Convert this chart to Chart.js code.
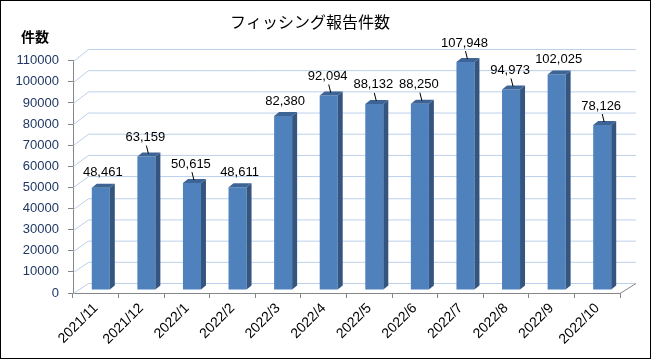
<!DOCTYPE html>
<html>
<head>
<meta charset="utf-8">
<script src="https://cdn.jsdelivr.net/npm/chart.js@4/dist/chart.umd.min.js"></script>
<style>
    body { margin: 0; background: #fff; }
    #wrap { width: 652px; height: 360px; }
</style>
</head>
<body>
<div id="wrap"><canvas id="myChart" width="652" height="360"></canvas></div>
<script>
const months = ["2021/11", "2021/12", "2022/1", "2022/2", "2022/3", "2022/4", "2022/5", "2022/6", "2022/7", "2022/8", "2022/9", "2022/10"]
const counts = [48461, 63159, 50615, 48611, 82380, 92094, 88132, 88250, 107948, 94973, 102025, 78126]
const yTicks = [0, 10000, 20000, 30000, 40000, 50000, 60000, 70000, 80000, 90000, 100000, 110000]
const hasLeader = [false, true, true, false, false, true, true, true, true, true, false, true]

const gridColor = "#BCD0EA"
const axisColor = "#868686"
const front = "#4F81BD"
const sideColor = "#34557F"
const topColor = "#3D6495"

// back wall offset (slight perspective: a bit deeper at the top)
function wallDy(v) {
    return -10 - 2 * (v / 110000)
}

const depth3d = {
    id: "depth3d",
    beforeDatasetsDraw(chart) {
        const {ctx, chartArea: a, scales: {y}} = chart
        ctx.save()
        ctx.lineWidth = 1
        ctx.strokeStyle = gridColor
        yTicks.forEach(v => {
            const py = Math.round(y.getPixelForValue(v)) + 0.5
            const dy = wallDy(v)
            ctx.beginPath()
            ctx.moveTo(a.left + 0.5, py)
            ctx.lineTo(a.left + 15.5, py + dy)
            ctx.lineTo(a.right + 16, py + dy)
            ctx.stroke()
        })
        // right edge of the floor
        const py0 = Math.round(y.getPixelForValue(0)) + 0.5
        ctx.strokeStyle = axisColor
        ctx.beginPath()
        ctx.moveTo(a.right, py0)
        ctx.lineTo(a.right + 16, py0 + wallDy(0))
        ctx.stroke()
        ctx.restore()

        // bars sit a little behind the front plane
        ctx.save()
        ctx.translate(5, -3)
    },
    afterDatasetsDraw(chart) {
        const ctx = chart.ctx
        const meta = chart.getDatasetMeta(0)
        meta.data.forEach((bar, i) => {
            const p = bar.getProps(["x", "y", "base", "width"], true)
            const l = p.x - p.width / 2
            const r = p.x + p.width / 2
            const dx = 5, dy = -4
            ctx.fillStyle = sideColor
            ctx.beginPath()
            ctx.moveTo(r, p.y)
            ctx.lineTo(r + dx, p.y + dy)
            ctx.lineTo(r + dx, p.base + dy)
            ctx.lineTo(r, p.base)
            ctx.closePath()
            ctx.fill()
            ctx.fillStyle = topColor
            ctx.beginPath()
            ctx.moveTo(l, p.y)
            ctx.lineTo(l + dx, p.y + dy)
            ctx.lineTo(r + dx, p.y + dy)
            ctx.lineTo(r, p.y)
            ctx.closePath()
            ctx.fill()

            // value label
            const cx = p.x + 2
            const ly = hasLeader[i] ? p.y - 19 : p.y - 15
            ctx.fillStyle = "#000"
            ctx.font = "13px 'Liberation Sans'"
            ctx.textAlign = "center"
            ctx.textBaseline = "middle"
            ctx.fillText(counts[i].toLocaleString("en-US"), cx - (hasLeader[i] ? 3 : 0), ly)
            if (hasLeader[i]) {
                ctx.strokeStyle = "#000"
                ctx.lineWidth = 1
                ctx.beginPath()
                ctx.moveTo(cx - 2, p.y - 11)
                ctx.lineTo(cx, p.y - 3)
                ctx.stroke()
            }
        })
        ctx.restore()
    },
    afterDraw(chart) {
        const ctx = chart.ctx
        ctx.save()
        ctx.fillStyle = "#000"
        ctx.font = "bold 14px 'Noto Sans CJK JP'"
        ctx.textAlign = "center"
        ctx.textBaseline = "middle"
        ctx.fillText("件数", 35, 37)
        ctx.strokeStyle = "#000"
        ctx.lineWidth = 1
        ctx.strokeRect(0.5, 0.5, 650, 358)
        ctx.restore()
    }
}

const config = {
    type: "bar",
    data: {
        labels: months,
        datasets: [{
            data: counts,
            backgroundColor: front,
            borderWidth: 0,
            barPercentage: 0.395,
            categoryPercentage: 1
        }]
    },
    options: {
        responsive: false,
        animation: false,
        layout: {padding: {left: 0, right: 32, top: 0, bottom: 0}},
        plugins: {
            legend: {display: false},
            tooltip: {enabled: false},
            title: {
                display: true,
                text: "フィッシング報告件数",
                color: "#000",
                font: {family: "'Noto Sans CJK JP'", size: 16, weight: "normal", lineHeight: 1.2},
                padding: {top: 12, bottom: 29.5}
            }
        },
        scales: {
            x: {
                offset: true,
                grid: {display: true, drawOnChartArea: false, offset: true, tickLength: 5, color: axisColor},
                border: {display: true, color: axisColor},
                ticks: {
                    autoSkip: false,
                    maxRotation: 45,
                    minRotation: 45,
                    padding: 2,
                    color: "#000",
                    font: {family: "'Liberation Sans'", size: 14}
                },
                afterFit(scale) { scale.height = 67 }
            },
            y: {
                min: 0,
                max: 110000,
                grid: {display: true, drawOnChartArea: false, tickLength: 5, color: axisColor},
                border: {display: true, color: axisColor},
                ticks: {
                    stepSize: 10000,
                    padding: 9,
                    color: "#1F3864",
                    font: {family: "'Liberation Sans'", size: 13},
                    callback: v => String(v)
                },
                afterFit(scale) { scale.width = 73 }
            }
        }
    },
    plugins: [depth3d]
}

const myChart = new Chart(document.getElementById("myChart"), config)
</script>
</body>
</html>
